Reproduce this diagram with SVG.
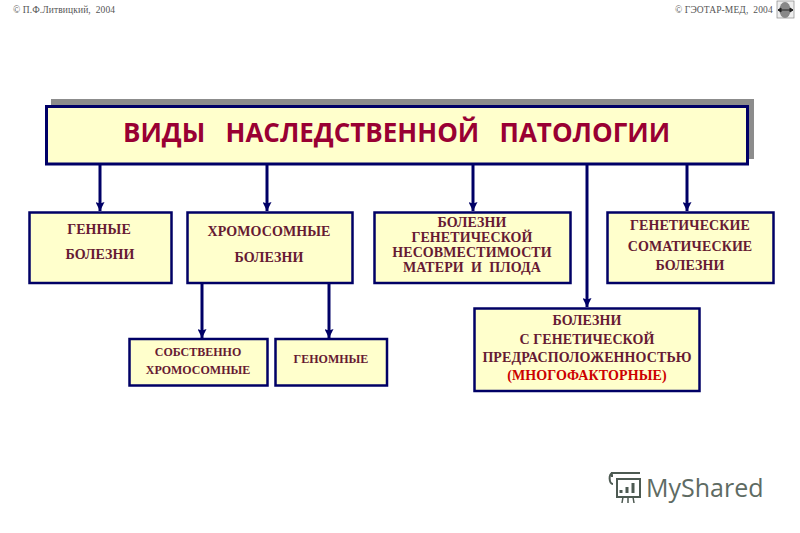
<svg xmlns="http://www.w3.org/2000/svg" width="800" height="533" viewBox="0 0 800 533">
<style>
.b{fill:#ffffcc;stroke:#000066;stroke-width:2.500}
.t{font-family:"Liberation Serif",serif;font-weight:bold;fill:#661a33;text-anchor:middle;font-size:14px;letter-spacing:.1px}
.s{font-size:12px;letter-spacing:0}
.c{font-family:"Liberation Serif",serif;font-size:9.500px;fill:#555;letter-spacing:.1px}
.l{stroke:#000066;stroke-width:3;fill:none;marker-end:url(#a)}
</style>
<defs>
<marker id="a" markerUnits="userSpaceOnUse" markerWidth="10" markerHeight="9" refX="9" refY="4.500" orient="auto"><path d="M0 0L9 4.500L0 9L1.500 4.500Z" fill="#000066"/></marker>
</defs>
<rect width="800" height="533" fill="#fff"/>
<g id="credits">
<text class="c" x="13" y="13" xml:space="preserve">© П.Ф.Литвицкий,  2004</text>
<text class="c" x="675" y="13" xml:space="preserve">© ГЭОТАР-МЕД,  2004</text>
</g>
<g id="nav-icon">
<rect x="777" y="1" width="17" height="17" fill="#eee" stroke="#888" stroke-width="0.700"/>
<ellipse cx="785" cy="10" rx="5.500" ry="8" fill="#888"/>
<path d="M778 10H793M778 10l3-2v4ZM793 10l-3-2v4Z" stroke="#222" stroke-width="1" fill="#222"/>
</g>
<g id="connectors">
<path class="l" d="M100 164V211"/>
<path class="l" d="M267 164V211"/>
<path class="l" d="M473 164V211"/>
<path class="l" d="M587 164V307"/>
<path class="l" d="M687 164V211"/>
<path class="l" d="M202 283V338"/>
<path class="l" d="M329 283V338"/>
</g>
<g id="title">
<rect x="51" y="99" width="703" height="60" fill="#8c8c8c"/>
<rect x="46.500" y="106.500" width="701" height="57.500" class="b" style="stroke-width:3"/>
<text x="396.500" y="142" font-family="'Open Sans','Liberation Sans',sans-serif" font-weight="bold" font-size="26" fill="#990033" text-anchor="middle" xml:space="preserve">ВИДЫ   НАСЛЕДСТВЕННОЙ   ПАТОЛОГИИ</text>
</g>
<g id="gene">
<rect x="29.500" y="212.500" width="142" height="70.500" class="b"/>
<text class="t" x="99" y="234">ГЕННЫЕ</text>
<text class="t" x="100" y="259">БОЛЕЗНИ</text>
</g>
<g id="chromosomal">
<rect x="187.500" y="212.500" width="165" height="70.500" class="b"/>
<text class="t" x="269" y="236">ХРОМОСОМНЫЕ</text>
<text class="t" x="269" y="262">БОЛЕЗНИ</text>
</g>
<g id="incompatibility">
<rect x="374.500" y="212.500" width="196" height="70.500" class="b"/>
<text class="t" x="472" y="227">БОЛЕЗНИ</text>
<text class="t" x="472" y="242">ГЕНЕТИЧЕСКОЙ</text>
<text class="t" x="472" y="257">НЕСОВМЕСТИМОСТИ</text>
<text class="t" x="472" y="272" xml:space="preserve">МАТЕРИ  И  ПЛОДА</text>
</g>
<g id="somatic">
<rect x="607.500" y="212.500" width="166" height="70.500" class="b"/>
<text class="t" x="690" y="230">ГЕНЕТИЧЕСКИЕ</text>
<text class="t" x="690" y="251">СОМАТИЧЕСКИЕ</text>
<text class="t" x="690" y="270">БОЛЕЗНИ</text>
</g>
<g id="multifactorial">
<rect x="474.500" y="308.500" width="225" height="82.500" class="b"/>
<text class="t" x="587" y="325">БОЛЕЗНИ</text>
<text class="t" x="587" y="344">С ГЕНЕТИЧЕСКОЙ</text>
<text class="t" x="587" y="362">ПРЕДРАСПОЛОЖЕННОСТЬЮ</text>
<text class="t" x="587" y="380" style="fill:#cc0000">(МНОГОФАКТОРНЫЕ)</text>
</g>
<g id="proper">
<rect x="129.500" y="339" width="138" height="46.500" class="b"/>
<text class="t s" x="198" y="356">СОБСТВЕННО</text>
<text class="t s" x="198" y="374">ХРОМОСОМНЫЕ</text>
</g>
<g id="genomic">
<rect x="275.500" y="339" width="111.500" height="46.500" class="b"/>
<text class="t s" x="331" y="363">ГЕНОМНЫЕ</text>
</g>
<g id="watermark" fill="none" stroke="#4d5a52" stroke-width="2">
<path d="M612 477V473H640M613 473C608 473 609 484 613 484M617 479H640V497H617Z"/>
<path d="M622 503L623 497M628 503V497M634 503L633 497" stroke-width="1.500"/>
<path d="M621 493V490M627 493V487M633 493V483" stroke-width="3"/>
<text x="646" y="497" font-family="'Open Sans','Liberation Sans',sans-serif" font-size="25" fill="#5e6b63" stroke="none">MyShared</text>
</g>
</svg>
